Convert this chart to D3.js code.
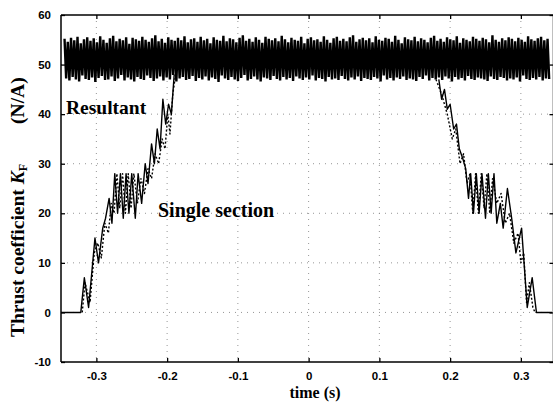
<!DOCTYPE html>
<html><head><meta charset="utf-8">
<script src="https://cdn.jsdelivr.net/npm/d3@7"></script>
<style>
html,body{margin:0;padding:0;background:#fff;}
svg{display:block;}
</style></head>
<body><svg id="chart" width="553" height="407"></svg>
<script>
// ---- data ----
const xTicks = [-0.3,-0.2,-0.1,0,0.1,0.2,0.3];
const xTickLabels = ["-0.3","-0.2","-0.1","0","0.1","0.2","0.3"];
const yTicks = [-10,0,10,20,30,40,50,60];
const yTickLabels = ["-10","0","10","20","30","40","50","60"];

// Resultant: dense oscillation between peaks and troughs, spanning bandStart..bandEnd
const bandStart = -0.345, bandEnd = 0.340;
const bandHigh = [
55.2,54.6,55.4,54.9,55.6,54.3,55.1,55.5,54.8,55.3,
54.5,55.7,55.0,54.4,55.3,55.8,54.7,55.2,54.9,55.5,
54.2,55.4,55.1,54.8,55.6,55.0,54.6,55.3,55.9,54.7,
55.2,54.4,55.5,55.0,54.8,55.4,54.9,55.7,54.5,55.1,
55.3,54.6,55.6,54.9,55.2,54.3,55.5,55.0,54.8,55.8,
54.7,55.3,55.1,54.5,55.4,55.9,54.8,55.2,54.6,55.5,
55.0,54.4,55.6,55.2,54.9,55.3,54.7,55.8,55.1,54.5,
55.4,55.0,54.8,55.6,54.3,55.2,55.5,54.9,55.1,54.6,
55.7,55.0,54.4,55.3,55.6,54.8,55.2,54.7,55.5,55.9,
54.6,55.1,55.4,54.9,55.3,54.5,55.7,55.0,54.8,55.4,
55.2,54.6,55.8,55.0,54.3,55.5,55.1,54.9,55.6,54.7,
55.3,55.0,54.5,55.4,55.8,54.8,55.2,54.6,55.5,55.1,
54.9,55.7,54.4,55.3,55.0,54.7,55.6,55.2,54.8,55.4,
55.1,54.5,55.9,55.0,54.6,55.3,54.9,55.5,55.2,54.7,
55.4,55.0,54.6,55.7,55.1,54.8,55.3,55.6,54.9,55.2];
const bandLow = [
47.2,46.8,47.5,47.0,46.6,47.8,47.1,46.9,47.4,46.5,
47.3,47.7,46.9,47.0,47.6,46.7,47.2,47.9,46.8,47.4,
47.0,46.6,47.5,47.1,46.9,47.8,47.3,46.7,47.2,47.6,
46.8,47.4,47.0,47.9,46.6,47.2,47.5,46.9,47.1,47.7,
46.7,47.3,47.0,47.6,46.8,47.4,47.1,46.5,47.8,47.2,
46.9,47.5,47.0,46.7,47.3,47.9,46.8,47.1,47.6,47.0,
46.6,47.4,47.2,46.9,47.7,47.1,46.8,47.5,47.0,47.3,
46.7,47.6,47.2,46.9,47.4,47.0,47.8,46.8,47.3,47.1,
46.6,47.5,47.0,47.2,46.9,47.7,47.1,46.8,47.4,47.0,
47.6,46.7,47.3,47.1,46.9,47.5,47.2,46.6,47.8,47.0,
47.3,46.8,47.4,47.1,47.6,46.9,47.2,47.0,46.7,47.5,
47.1,47.8,46.8,47.3,47.0,47.4,46.9,47.6,47.2,46.6,
47.5,47.0,47.3,46.8,47.7,47.1,46.9,47.4,47.2,47.0,
46.7,47.6,47.1,46.9,47.5,47.3,46.8,47.2,47.0,47.4,
46.6,47.8,47.1,46.9,47.3,47.0,47.5,46.8,47.2,47.1];

// Single section (solid) — left rise and right fall
const singleALeftT = [-0.350,-0.322,-0.317,-0.311,-0.302,-0.297,-0.291,-0.287,-0.282,-0.278,-0.274,-0.270,-0.266,-0.262,-0.258,-0.254,-0.250,-0.245,-0.241,-0.236,-0.231,-0.227,-0.222,-0.218,-0.214,-0.210,-0.206,-0.202,-0.198,-0.194,-0.190];
const singleALeftV = [0,0,7,1,15,10,17,19,23,18,28,20,28,19,28,20,28,19,28,22,30,26,34,30,37,33,43,38,42,40,48];
const singleARightT = [0.184,0.188,0.192,0.196,0.200,0.205,0.209,0.213,0.218,0.222,0.226,0.229,0.233,0.237,0.241,0.245,0.250,0.254,0.258,0.262,0.266,0.271,0.275,0.281,0.287,0.293,0.301,0.309,0.316,0.322,0.344];
const singleARightV = [47,43,45,41,42,37,38,33,31,29,23,28,20,28,20,28,19,28,20,28,18,22,17,25,19,12,17,1,7,0,0];
// Single section (dotted)
const singleBLeftT = [-0.320,-0.316,-0.309,-0.303,-0.298,-0.293,-0.288,-0.283,-0.279,-0.275,-0.271,-0.267,-0.263,-0.259,-0.255,-0.251,-0.247,-0.242,-0.237,-0.232,-0.227,-0.222,-0.217,-0.212,-0.207,-0.203,-0.199,-0.196,-0.192,-0.188];
const singleBLeftV = [0,6,2,12,14,11,18,16,22,20,28,21,28,20,28,21,28,22,27,24,29,27,32,30,35,33,40,36,44,48];
const singleBRightT = [0.180,0.188,0.196,0.203,0.208,0.214,0.219,0.224,0.228,0.232,0.236,0.240,0.244,0.248,0.252,0.256,0.260,0.266,0.272,0.278,0.284,0.290,0.296,0.300,0.304,0.308,0.312,0.317,0.320];
const singleBRightV = [47,44,40,35,37,30,32,26,28,20,28,20,28,21,28,20,27,22,24,18,20,14,16,10,12,2,6,1,0];

// ---- layout ----
const svg = d3.select("#chart");
const L = 61, R = 552, T = 15, B = 362;
const x = d3.scaleLinear().domain([-0.35, 0.344]).range([L, R]);
const y = d3.scaleLinear().domain([-10, 60]).range([B, T]);
const SERIF = "'Liberation Serif', 'DejaVu Serif', serif";

// grid
const grid = svg.append("g").attr("stroke","#8a8a8a").attr("stroke-width",0.9).attr("stroke-dasharray","1,5").attr("fill","none");
xTicks.forEach(t => grid.append("line").attr("x1",x(t)).attr("x2",x(t)).attr("y1",T).attr("y2",B));
yTicks.forEach(t => { if (t>-10 && t<60) grid.append("line").attr("x1",L).attr("x2",R).attr("y1",y(t)).attr("y2",y(t)); });

// resultant band
const bandPts = [];
const n = bandHigh.length;
for (let i = 0; i < n; i++) { bandPts.push(bandHigh[i]); bandPts.push(bandLow[i]); }
const bandX = d3.scaleLinear().domain([0, bandPts.length-1]).range([bandStart, bandEnd]);
const line = d3.line().x(d => x(d[0])).y(d => y(d[1]));
svg.append("path")
  .attr("d", line(bandPts.map((v,i) => [bandX(i), v])))
  .attr("fill","none").attr("stroke","#000").attr("stroke-width",2.4);

// single section curves
function drawSeries(ts, vs, dash) {
  svg.append("path")
    .attr("d", line(ts.map((t,i) => [t, vs[i]])))
    .attr("fill","none").attr("stroke","#000").attr("stroke-width",1.4)
    .attr("stroke-dasharray", dash || null)
    .attr("stroke-linejoin","round");
}
drawSeries(singleALeftT, singleALeftV);
drawSeries(singleARightT, singleARightV);
drawSeries(singleBLeftT, singleBLeftV, "2,2");
drawSeries(singleBRightT, singleBRightV, "2,2");

// axes
const axG = svg.append("g").attr("stroke","#000").attr("stroke-width",1.5).attr("fill","none");
axG.append("line").attr("x1",L).attr("x2",L).attr("y1",T).attr("y2",B);
axG.append("line").attr("x1",L).attr("x2",R+2).attr("y1",B).attr("y2",B);
axG.append("line").attr("x1",L).attr("x2",R+2).attr("y1",T).attr("y2",T);
axG.append("line").attr("x1",R+1.5).attr("x2",R+1.5).attr("y1",T).attr("y2",B);

const xAxis = d3.axisBottom(x).tickValues(xTicks).tickSize(-4).tickPadding(10)
  .tickFormat((d,i) => xTickLabels[i]);
svg.append("g").attr("transform",`translate(0,${B})`).call(xAxis);
const xAxisTop = d3.axisTop(x).tickValues(xTicks).tickSize(-4).tickFormat("");
svg.append("g").attr("transform",`translate(0,${T})`).call(xAxisTop);
const yAxis = d3.axisLeft(y).tickValues(yTicks).tickSize(-4).tickPadding(10)
  .tickFormat((d,i) => yTickLabels[i]);
svg.append("g").attr("transform",`translate(${L},0)`).call(yAxis);
const yAxisR = d3.axisRight(y).tickValues(yTicks).tickSize(-4).tickFormat("");
svg.append("g").attr("transform",`translate(${R+1.5},0)`).call(yAxisR);
svg.selectAll(".domain").remove();
svg.selectAll(".tick line").attr("stroke","#000").attr("stroke-width",1.3);
svg.selectAll(".tick text").attr("font-family","'Liberation Sans', Arial, sans-serif")
  .attr("font-weight","bold").attr("font-size","11.5px").attr("fill","#000");

// texts
svg.append("text").attr("x",66).attr("y",114)
  .style("font-family",SERIF).style("font-weight","bold")
  .style("font-size","19.5px").text("Resultant");
svg.append("text").attr("x",158).attr("y",217)
  .style("font-family",SERIF).style("font-weight","bold")
  .style("font-size","20px").text("Single section");
svg.append("text").attr("x",315).attr("y",398).attr("text-anchor","middle")
  .style("font-family",SERIF)
  .style("font-weight","bold").style("font-size","16px").text("time (s)");

const yt = svg.append("text").attr("transform","translate(24,337) rotate(-90)")
  .style("font-family",SERIF)
  .style("font-weight","bold").style("font-size","19.5px");
yt.append("tspan").text("Thrust coefficient ");
yt.append("tspan").style("font-style","italic").text("K");
yt.append("tspan").style("font-size","12px").attr("dy",3).text("F");
yt.append("tspan").attr("dy",-3).attr("dx",40).text("(N/A)");
</script></body></html>
